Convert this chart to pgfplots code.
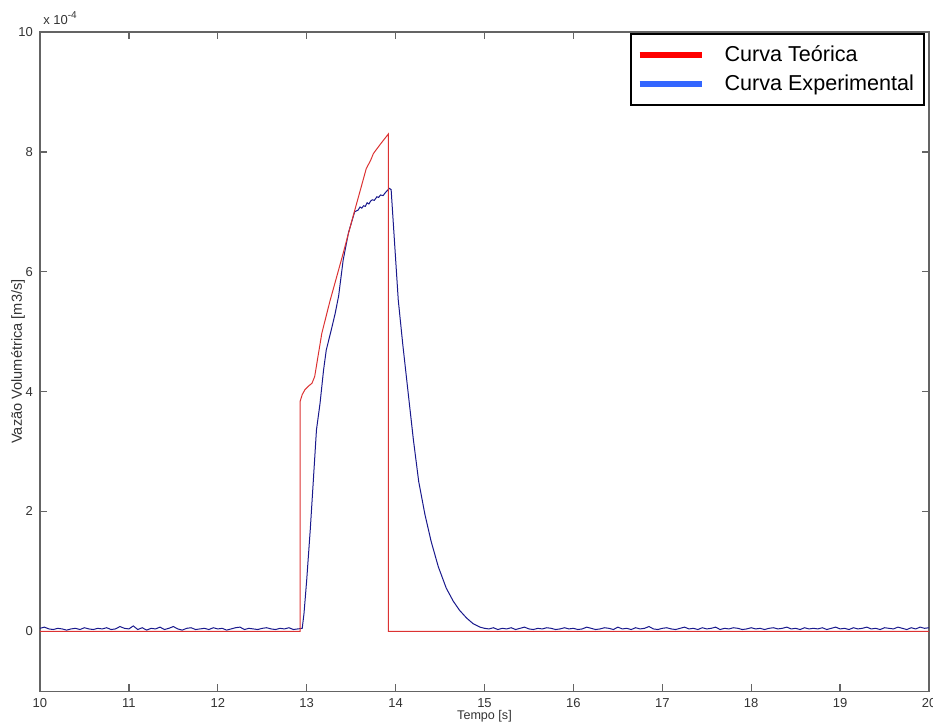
\documentclass[border=0pt]{standalone}
\usepackage{pgfplots}
\pgfplotsset{compat=1.18}
\usepackage{fontspec}
\setmainfont{Liberation Sans}

\definecolor{teored}{RGB}{220,50,50}
\definecolor{expblue}{RGB}{25,25,140}
\definecolor{legred}{RGB}{255,0,0}
\definecolor{legblue}{RGB}{51,102,255}
\definecolor{axgray}{RGB}{100,100,100}

\begin{document}
\begin{tikzpicture}
\begin{axis}[
  name=main,
  scale only axis,
  width=445pt, height=330pt,
  xmin=10, xmax=20,
  ymin=-1, ymax=10,
  xtick={10,11,...,20},
  ytick={0,2,4,6,8,10},
  tick align=inside,
  xtick pos=both, ytick pos=both,
  major tick length=3.5pt,
  axis line style={axgray, line width=0.7pt},
  tick style={axgray, line width=0.7pt},
  tick label style={font=\fontsize{6.5}{7}\selectfont, text=black!80},
  /pgf/number format/assume math mode=true,
  xlabel={Tempo [s]},
  ylabel={Vazão Volumétrica [m3/s]},
  xlabel style={font=\fontsize{6.3}{7}\selectfont, text=black!80,
    at={(axis description cs:0.5,-0.038)}, anchor=center},
  ylabel style={font=\fontsize{7.3}{8}\selectfont, text=black!80,
    at={(axis description cs:-0.0247,0.5)}, anchor=center},
  legend style={at={(0.9955,0.999)}, anchor=north east, draw=black,
    line width=1pt, font=\fontsize{10.8}{12}\selectfont,
    inner xsep=3pt, inner ysep=4pt, row sep=1pt,
    cells={anchor=west}},
  legend image code/.code={\draw[#1, line width=3pt] (0pt,0pt) -- (31pt,0pt);},
]
\addlegendimage{legred}
\addlegendentry{\hspace{8pt}Curva Teórica}
\addlegendimage{legblue}
\addlegendentry{\hspace{8pt}Curva Experimental\hspace{6pt}}

% curva experimental
\addplot[expblue, line width=0.5pt, forget plot] coordinates {
(10.00,0.05) (10.05,0.07) (10.10,0.04) (10.15,0.03) (10.20,0.05) (10.25,0.04)
(10.30,0.02) (10.35,0.04) (10.40,0.05) (10.45,0.03) (10.50,0.06) (10.55,0.04)
(10.60,0.03) (10.65,0.05) (10.70,0.04) (10.75,0.06) (10.80,0.03) (10.85,0.04)
(10.90,0.08) (10.95,0.05) (11.00,0.04) (11.05,0.09) (11.10,0.03) (11.15,0.06)
(11.20,0.02) (11.25,0.05) (11.30,0.04) (11.35,0.07) (11.40,0.03) (11.45,0.05)
(11.50,0.08) (11.55,0.04) (11.60,0.02) (11.65,0.05) (11.70,0.06) (11.75,0.03)
(11.80,0.04) (11.85,0.05) (11.90,0.03) (11.95,0.06) (12.00,0.04) (12.05,0.05)
(12.10,0.02) (12.15,0.04) (12.20,0.06) (12.25,0.07) (12.30,0.03) (12.35,0.05)
(12.40,0.04) (12.45,0.03) (12.50,0.05) (12.55,0.06) (12.60,0.04) (12.65,0.03)
(12.70,0.05) (12.75,0.04) (12.80,0.06) (12.85,0.03) (12.90,0.04)
(12.95,0.05) (12.97,0.30) (13.00,0.85) (13.04,1.69) (13.07,2.40) (13.11,3.36)
(13.15,3.80) (13.19,4.36) (13.22,4.69) (13.28,5.05) (13.32,5.30) (13.36,5.60)
(13.41,6.19) (13.47,6.65) (13.54,7.00) (13.58,7.03) (13.60,7.08) (13.62,7.06)
(13.64,7.10) (13.66,7.09) (13.68,7.15) (13.70,7.13) (13.72,7.18) (13.74,7.20)
(13.76,7.19) (13.79,7.25) (13.81,7.24) (13.83,7.28) (13.86,7.27) (13.88,7.31)
(13.91,7.36) (13.93,7.39) (13.95,7.37) (14.03,5.53) (14.08,4.80) (14.14,4.00)
(14.20,3.20) (14.26,2.50) (14.33,1.95) (14.40,1.50) (14.48,1.08) (14.57,0.72)
(14.65,0.50) (14.72,0.35) (14.80,0.22) (14.87,0.13) (14.95,0.07) (15.00,0.05)
(15.05,0.04) (15.10,0.06) (15.15,0.03) (15.20,0.05) (15.25,0.04) (15.30,0.06)
(15.35,0.03) (15.40,0.05) (15.45,0.07) (15.50,0.04) (15.55,0.03) (15.60,0.05)
(15.65,0.04) (15.70,0.06) (15.75,0.05) (15.80,0.03) (15.85,0.04) (15.90,0.06)
(15.95,0.04) (16.00,0.05) (16.05,0.03) (16.10,0.04) (16.15,0.07) (16.20,0.05)
(16.25,0.03) (16.30,0.04) (16.35,0.06) (16.40,0.05) (16.45,0.03) (16.50,0.07)
(16.55,0.04) (16.60,0.05) (16.65,0.03) (16.70,0.06) (16.75,0.04) (16.80,0.05)
(16.85,0.08) (16.90,0.04) (16.95,0.03) (17.00,0.05) (17.05,0.06) (17.10,0.04)
(17.15,0.03) (17.20,0.05) (17.25,0.07) (17.30,0.04) (17.35,0.05) (17.40,0.03)
(17.45,0.06) (17.50,0.04) (17.55,0.05) (17.60,0.07) (17.65,0.03) (17.70,0.05)
(17.75,0.04) (17.80,0.06) (17.85,0.05) (17.90,0.03) (17.95,0.04) (18.00,0.06)
(18.05,0.04) (18.10,0.05) (18.15,0.03) (18.20,0.05) (18.25,0.06) (18.30,0.04)
(18.35,0.05) (18.40,0.07) (18.45,0.04) (18.50,0.05) (18.55,0.03) (18.60,0.06)
(18.65,0.04) (18.70,0.05) (18.75,0.04) (18.80,0.06) (18.85,0.03) (18.90,0.05)
(18.95,0.07) (19.00,0.04) (19.05,0.05) (19.10,0.03) (19.15,0.06) (19.20,0.04)
(19.25,0.05) (19.30,0.07) (19.35,0.04) (19.40,0.05) (19.45,0.03) (19.50,0.06)
(19.55,0.05) (19.60,0.04) (19.65,0.07) (19.70,0.05) (19.75,0.03) (19.80,0.06)
(19.85,0.04) (19.90,0.07) (19.95,0.05) (20.00,0.06)
};

% curva teorica
\addplot[teored, line width=0.5pt, forget plot] coordinates {
(10,0) (12.925,0) (12.925,3.83) (12.95,3.95) (12.98,4.03) (13.02,4.09)
(13.06,4.14) (13.09,4.25) (13.17,4.97) (13.26,5.50) (13.40,6.25) (13.51,6.86)
(13.62,7.45) (13.67,7.72) (13.72,7.86) (13.75,7.97) (13.83,8.13) (13.92,8.30)
(13.92,0) (20,0)
};
\end{axis}
\node[anchor=base west, font=\fontsize{6.5}{7}\selectfont, text=black!80,
  inner sep=0pt] at ([xshift=1.5pt, yshift=3.5pt]main.north west)
  {x 10\raisebox{3pt}{\fontsize{5}{6}\selectfont -4}};
\pgfresetboundingbox
\useasboundingbox ([xshift=-20pt, yshift=-17.5pt]main.south west)
  rectangle ([xshift=2pt, yshift=16pt]main.north east);
\end{tikzpicture}
\end{document}
